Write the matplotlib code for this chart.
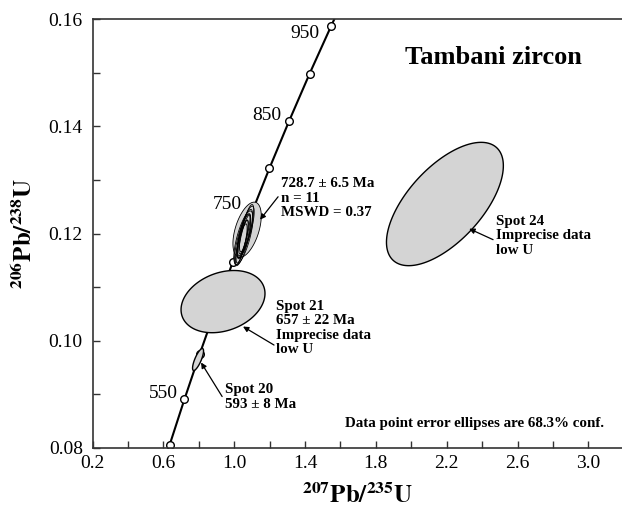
import numpy as np
import matplotlib
matplotlib.use('Agg')
import matplotlib.pyplot as plt
from matplotlib.patches import Polygon
from matplotlib.ticker import MultipleLocator, FixedLocator

plt.rcParams['font.family'] = ['Liberation Serif', 'DejaVu Serif']
plt.rcParams['mathtext.fontset'] = 'stix'

# concordia ticks (Ma) and their ratios
conc_age = [500, 550, 600, 650, 700, 750, 800, 850, 900, 950, 960]
conc_207 = [0.6363, 0.7189, 0.8056, 0.8968, 0.9925, 1.0931, 1.1987, 1.3097, 1.4263, 1.5488, 1.5740]
conc_206 = [0.08065, 0.08906, 0.09754, 0.10609, 0.11470, 0.12338, 0.13213, 0.14094, 0.14983, 0.15878, 0.16058]
marker_ages = [500, 550, 600, 650, 700, 750, 800, 850, 900, 950]
labelled_ages = [550, 750, 850, 950]

# error ellipses: centre 207/235, centre 206/238, half-width x, half-width y, rho
cluster_x = [1.073, 1.045, 1.055, 1.060, 1.050, 1.065, 1.040, 1.070, 1.052, 1.058, 1.048]
cluster_y = [0.1207, 0.1185, 0.1195, 0.1200, 0.1190, 0.1205, 0.1180, 0.1210, 0.1192, 0.1198, 0.1188]
cluster_sx = [0.080, 0.034, 0.038, 0.044, 0.030, 0.048, 0.033, 0.040, 0.054, 0.031, 0.046]
cluster_sy = [0.00515, 0.0040, 0.0042, 0.0045, 0.0035, 0.0046, 0.0038, 0.0044, 0.0050, 0.0036, 0.0048]
cluster_rho = [0.50, 0.80, 0.78, 0.76, 0.82, 0.77, 0.80, 0.78, 0.72, 0.84, 0.75]

spot_x = [0.796, 0.937, 2.19]     # spot 20, 21, 24
spot_y = [0.0965, 0.1073, 0.1255]
spot_sx = [0.031, 0.237, 0.33]
spot_sy = [0.00205, 0.00580, 0.0115]
spot_rho = [0.78, 0.26, 0.62]


def ellipse_xy(cx, cy, sx, sy, rho, n=200):
    t = np.linspace(0, 2 * np.pi, n)
    x = cx + sx * np.cos(t)
    y = cy + sy * (rho * np.cos(t) + np.sqrt(1 - rho ** 2) * np.sin(t))
    return np.column_stack([x, y])


fig = plt.figure(figsize=(6.22, 5.09), dpi=100)
ax = fig.add_axes([92.5 / 622, 61 / 509, (622 - 92.5) / 622, (448 - 19) / 509])
ax.set_xlim(0.2, 3.19)
ax.set_ylim(0.08, 0.16)

# concordia
ax.plot(conc_207, conc_206, color='black', lw=1.5, zorder=2)
mk = [conc_age.index(a) for a in marker_ages]
ax.plot([conc_207[i] for i in mk], [conc_206[i] for i in mk], 'o', ms=5.5,
        mfc='white', mec='black', mew=1.0, ls='none', zorder=2.5)

label_off = {550: (-5, 4.3), 750: (-6.5, 7.5), 850: (-5.8, 4.3), 950: (-8.6, -5.8)}
for a in labelled_ages:
    i = conc_age.index(a)
    ax.annotate(str(a), (conc_207[i], conc_206[i]), xytext=label_off[a],
                textcoords='offset points', ha='right', va='center', fontsize=14, zorder=5)

# ellipses
fill = '#d4d4d4'
for cx, cy, sx, sy, r in zip(spot_x, spot_y, spot_sx, spot_sy, spot_rho):
    ax.add_patch(Polygon(ellipse_xy(cx, cy, sx, sy, r), closed=True,
                         fc=fill, ec='black', lw=1.0, zorder=3))
for cx, cy, sx, sy, r in zip(cluster_x, cluster_y, cluster_sx, cluster_sy, cluster_rho):
    ax.add_patch(Polygon(ellipse_xy(cx, cy, sx, sy, r), closed=True,
                         fc=fill, ec='none', zorder=3))
for cx, cy, sx, sy, r in zip(cluster_x, cluster_y, cluster_sx, cluster_sy, cluster_rho):
    ax.add_patch(Polygon(ellipse_xy(cx, cy, sx, sy, r), closed=True,
                         fc='none', ec='black', lw=0.6, zorder=4))

# annotations
bold = dict(fontsize=10.8, fontweight='bold', ha='left', va='center', linespacing=1.15, zorder=5)
arrow = dict(arrowstyle='-|>', color='black', lw=0.9, mutation_scale=8, shrinkA=0, shrinkB=0)
ax.text(1.265, 0.1266, '728.7 ± 6.5 Ma\nn = 11\nMSWD = 0.37', **bold)
ax.annotate('', xy=(1.146, 0.12257), xytext=(1.248, 0.12685), arrowprops=arrow)
ax.text(1.237, 0.1024, 'Spot 21\n657 ± 22 Ma\nImprecise data\nlow U', **bold)
ax.annotate('', xy=(1.050, 0.10265), xytext=(1.225, 0.0992), arrowprops=arrow)
ax.text(0.948, 0.0895, 'Spot 20\n593 ± 8 Ma', **bold)
ax.annotate('', xy=(0.813, 0.09594), xytext=(0.932, 0.0896), arrowprops=arrow)
ax.text(2.478, 0.1196, 'Spot 24\nImprecise data\nlow U', **bold)
ax.annotate('', xy=(2.327, 0.12089), xytext=(2.462, 0.11885), arrowprops=arrow)

ax.text(3.09, 0.08458, 'Data point error ellipses are 68.3% conf.', fontsize=10.8,
        fontweight='bold', ha='right', va='center')
ax.text(1.965, 0.1529, 'Tambani zircon', fontsize=19, fontweight='bold', ha='left', va='center')

# axes styling
ax.spines['right'].set_visible(False)
for s in ['left', 'bottom', 'top']:
    ax.spines[s].set_linewidth(1.2)
    ax.spines[s].set_color('#333333')
ax.xaxis.set_major_locator(FixedLocator([0.2, 0.6, 1.0, 1.4, 1.8, 2.2, 2.6, 3.0]))
ax.xaxis.set_minor_locator(FixedLocator([0.4, 0.8, 1.2, 1.6, 2.0, 2.4, 2.8]))
ax.yaxis.set_major_locator(MultipleLocator(0.02))
ax.yaxis.set_minor_locator(MultipleLocator(0.01))
ax.xaxis.set_major_formatter(plt.FormatStrFormatter('%.1f'))
ax.yaxis.set_major_formatter(plt.FormatStrFormatter('%.2f'))
ax.tick_params(which='both', direction='in', length=5, width=1.0, color='#333333',
               labelsize=14, top=False, right=False)
ax.tick_params(axis='x', pad=5)
ax.tick_params(axis='y', pad=7)

ax.set_xlabel(r'$^{\mathbf{207}}\mathbf{Pb/}^{\mathbf{235}}\mathbf{U}$', fontsize=18, labelpad=8)
ax.set_ylabel(r'$^{\mathbf{206}}\mathbf{Pb/}^{\mathbf{238}}\mathbf{U}$', fontsize=18, labelpad=8)

fig.savefig('out.png', dpi=100)
